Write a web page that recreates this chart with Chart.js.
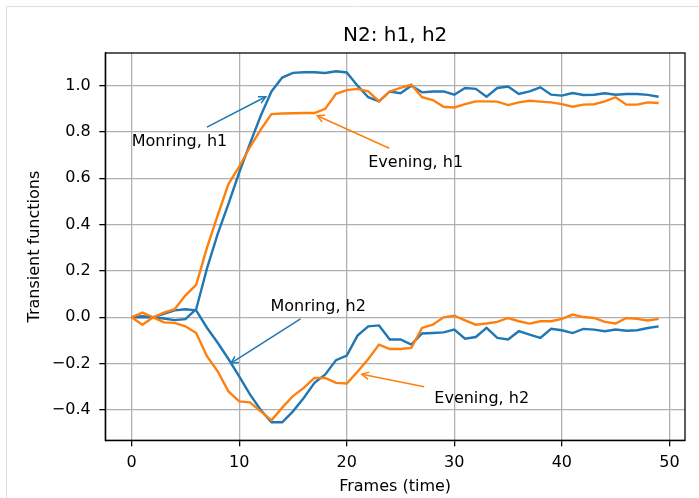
<!DOCTYPE html>
<html>
<head>
<meta charset="utf-8">
<script src="https://cdn.jsdelivr.net/npm/chart.js@4.4.1/dist/chart.umd.min.js"></script>
<style>
  html, body { margin: 0; padding: 0; background: #fff; }
  #wrap { width: 699px; height: 498px; position: relative; }
</style>
</head>
<body>
<div id="wrap"><canvas id="transientChart" width="699" height="498"></canvas></div>
<script>
// values, one per frame (0..49)
var morningH1 = [0.0, 0.0, 0.0, -0.005, -0.012, -0.008, 0.035, 0.21, 0.36, 0.49,
  0.625, 0.75, 0.87, 0.975, 1.035, 1.055, 1.058, 1.058, 1.055, 1.062,
  1.057, 1.0, 0.95, 0.932, 0.975, 0.967, 1.0, 0.971, 0.975, 0.975,
  0.961, 0.99, 0.986, 0.952, 0.99, 0.996, 0.964, 0.975, 0.993, 0.961,
  0.957, 0.968, 0.96, 0.961, 0.967, 0.961, 0.964, 0.964, 0.96, 0.952];

var eveningH1 = [0.0, 0.02, 0.0, 0.02, 0.035, 0.095, 0.14, 0.30, 0.44, 0.575,
  0.65, 0.735, 0.81, 0.877, 0.88, 0.881, 0.882, 0.882, 0.90, 0.965,
  0.981, 0.986, 0.975, 0.932, 0.975, 0.99, 1.004, 0.95, 0.938, 0.909,
  0.906, 0.92, 0.932, 0.932, 0.931, 0.916, 0.928, 0.935, 0.931, 0.928,
  0.92, 0.909, 0.918, 0.92, 0.932, 0.95, 0.918, 0.918, 0.928, 0.925];

var morningH2 = [0.0, 0.005, 0.0, 0.015, 0.03, 0.035, 0.03, -0.045, -0.11, -0.18,
  -0.255, -0.333, -0.40, -0.453, -0.453, -0.406, -0.348, -0.283, -0.247, -0.185,
  -0.165, -0.079, -0.039, -0.035, -0.096, -0.096, -0.118, -0.07, -0.068, -0.065,
  -0.053, -0.092, -0.085, -0.046, -0.089, -0.096, -0.06, -0.075, -0.089, -0.05,
  -0.056, -0.068, -0.05, -0.053, -0.06, -0.053, -0.058, -0.056, -0.046, -0.039];

var eveningH2 = [0.0, -0.032, 0.0, -0.022, -0.024, -0.039, -0.068, -0.168, -0.233, -0.32,
  -0.363, -0.367, -0.406, -0.445, -0.39, -0.34, -0.305, -0.262, -0.262, -0.283,
  -0.286, -0.235, -0.18, -0.118, -0.137, -0.137, -0.132, -0.046, -0.032, 0.0,
  0.007, -0.013, -0.032, -0.027, -0.02, -0.003, -0.017, -0.027, -0.017, -0.017,
  -0.007, 0.012, 0.001, -0.003, -0.02, -0.027, -0.003, -0.007, -0.014, -0.007];

var xTicks = [0, 10, 20, 30, 40, 50];
var yTicks = [-0.4, -0.2, 0.0, 0.2, 0.4, 0.6, 0.8, 1.0];

// annotate(text, xy=arrow tip, xytext=text spot), all in data units
var notes = [
  { text: 'Monring, h1', tx: 0, ty: 0.739, fromX: 7.0, fromY: 0.821, toX: 12.47, toY: 0.952, color: '#1f77b4' },
  { text: 'Evening, h1', tx: 22.0, ty: 0.648, fromX: 23.95, fromY: 0.73, toX: 17.26, toY: 0.87, color: '#ff7f0e' },
  { text: 'Monring, h2', tx: 12.9, ty: 0.026, fromX: 15.7, fromY: -0.007, toX: 9.24, toY: -0.198, color: '#1f77b4' },
  { text: 'Evening, h2', tx: 28.14, ty: -0.372, fromX: 27.2, fromY: -0.30, toX: 21.4, toY: -0.246, color: '#ff7f0e' }
];

function toPoints(values) {
  var pts = [];
  for (var i = 0; i < values.length; i++) {
    pts.push({ x: i, y: values[i] });
  }
  return pts;
}

function minusSign(v) {
  var s = v.toFixed(1);
  if (s == '-0.0') s = '0.0';
  return s.replace('-', '\u2212');
}

// white page, the faint notebook frame, and the box round the axes
var framePlugin = {
  id: 'frame',
  beforeDraw: function(chart) {
    var ctx = chart.ctx;
    ctx.save();
    ctx.fillStyle = '#fff';
    ctx.fillRect(0, 0, chart.width, chart.height);
    ctx.strokeStyle = '#e0e0e0';
    ctx.lineWidth = 1;
    ctx.beginPath();
    ctx.moveTo(6.5, chart.height);
    ctx.lineTo(6.5, 6.5);
    ctx.lineTo(chart.width, 6.5);
    ctx.stroke();
    ctx.restore();
  },
  afterDraw: function(chart) {
    var a = chart.chartArea;
    var ctx = chart.ctx;
    ctx.save();
    ctx.strokeStyle = '#000';
    ctx.lineWidth = 1.28;
    ctx.strokeRect(a.left, a.top, a.right - a.left, a.bottom - a.top);
    ctx.restore();
  }
};

var notePlugin = {
  id: 'notes',
  afterDatasetsDraw: function(chart) {
    var ctx = chart.ctx;
    var xs = chart.scales.x;
    var ys = chart.scales.y;
    ctx.save();
    for (let n of notes) {
      var x1 = xs.getPixelForValue(n.fromX), y1 = ys.getPixelForValue(n.fromY);
      var x2 = xs.getPixelForValue(n.toX), y2 = ys.getPixelForValue(n.toY);
      var ang = Math.atan2(y2 - y1, x2 - x1);
      ctx.strokeStyle = n.color;
      ctx.lineWidth = 1.5;
      ctx.beginPath();
      ctx.moveTo(x1, y1);
      ctx.lineTo(x2, y2);
      ctx.stroke();
      // open "->" head
      var hl = 7, hw = 3.6;
      var bx = x2 - hl * Math.cos(ang), by = y2 - hl * Math.sin(ang);
      ctx.beginPath();
      ctx.moveTo(bx + hw * Math.sin(ang), by - hw * Math.cos(ang));
      ctx.lineTo(x2, y2);
      ctx.lineTo(bx - hw * Math.sin(ang), by + hw * Math.cos(ang));
      ctx.stroke();

      ctx.fillStyle = '#000';
      ctx.font = '16px "DejaVu Sans"';
      ctx.textAlign = 'left';
      ctx.textBaseline = 'alphabetic';
      ctx.fillText(n.text, xs.getPixelForValue(n.tx), ys.getPixelForValue(n.ty));
    }
    ctx.restore();
  }
};

Chart.defaults.font.family = '"DejaVu Sans", sans-serif';
Chart.defaults.color = '#000';

const ctx = document.getElementById('transientChart');
const transientChart = new Chart(ctx, {
  type: 'line',
  data: {
    datasets: [
      { label: 'Morning, h1', data: toPoints(morningH1), borderColor: '#1f77b4', order: 2 },
      { label: 'Evening, h1', data: toPoints(eveningH1), borderColor: '#ff7f0e', order: 1 },
      { label: 'Morning, h2', data: toPoints(morningH2), borderColor: '#1f77b4', order: 2 },
      { label: 'Evening, h2', data: toPoints(eveningH2), borderColor: '#ff7f0e', order: 1 }
    ]
  },
  options: {
    responsive: false,
    animation: false,
    layout: { padding: { left: 0, right: 14, top: 0, bottom: 0 } },
    elements: {
      line: { borderWidth: 2.4, tension: 0, fill: false },
      point: { radius: 0, hoverRadius: 0 }
    },
    plugins: {
      legend: { display: false },
      tooltip: { enabled: false },
      title: {
        display: true,
        text: 'N2: h1, h2',
        fullSize: false,
        font: { size: 20, weight: 'normal' },
        padding: { top: 24, bottom: 5 }
      }
    },
    scales: {
      x: {
        type: 'linear',
        min: -2.45,
        max: 51.45,
        afterBuildTicks: function(scale) {
          scale.ticks = xTicks.map(function(v) { return { value: v }; });
        },
        afterFit: function(scale) { scale.height = 57.7; },
        ticks: { font: { size: 16 }, padding: 7, maxRotation: 0, autoSkip: false },
        grid: { color: '#b0b0b0', lineWidth: 1.28, tickLength: 6, tickColor: '#000', tickWidth: 1.28 },
        border: { display: true, color: '#000', width: 1.28 },
        title: { display: true, text: 'Frames (time)', font: { size: 16 }, padding: { top: 0, bottom: 1.5 } }
      },
      y: {
        type: 'linear',
        min: -0.531,
        max: 1.141,
        afterBuildTicks: function(scale) {
          scale.ticks = yTicks.map(function(v) { return { value: v }; });
        },
        afterFit: function(scale) { scale.width = 105.3; },
        ticks: {
          font: { size: 16 }, padding: 8.6, autoSkip: false,
          callback: function(v) { return minusSign(v); }
        },
        grid: { color: '#b0b0b0', lineWidth: 1.28, tickLength: 6, tickColor: '#000', tickWidth: 1.28 },
        border: { display: true, color: '#000', width: 1.28 },
        title: { display: true, text: 'Transient functions', font: { size: 16 }, padding: { top: 25, bottom: 0 } }
      }
    }
  },
  plugins: [framePlugin, notePlugin]
});
</script>
</body>
</html>
